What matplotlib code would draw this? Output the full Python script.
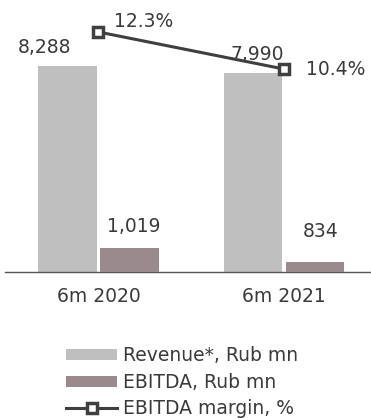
import numpy as np
import matplotlib.pyplot as plt
from matplotlib.patches import Patch
from matplotlib.lines import Line2D

periods = ['6m 2020', '6m 2021']
revenue = [8288, 7990]
ebitda = [1019, 834]
margin = [12.3, 10.4]

revenue_labels = ['8,288', '7,990']
ebitda_labels = ['1,019', '834']
margin_labels = ['12.3%', '10.4%']

plt.rcParams['font.family'] = ['DejaVu Sans']
txt = '#3a3a3a'
c_rev = '#bfbfbf'
c_ebit = '#9a8a8d'
c_line = '#3f3f3f'
fs = 13.5

fig = plt.figure(figsize=(3.71, 4.19), dpi=100)
ax = fig.add_axes([5 / 371, 147 / 419, 366 / 371, 272 / 419])
ax_e = ax.twinx()
ax_m = ax.twinx()

x = np.arange(len(periods))
w = 0.315
off = 0.166

ax.bar(x - off, revenue, w, color=c_rev)
ax_e.bar(x + off, ebitda, w, color=c_ebit)
ax_m.plot(x, margin, color=c_line, lw=2.2, marker='s', ms=7.5,
          mfc='white', mec=c_line, mew=2.5)

ax.set_xlim(-0.504, 1.469)
ax.set_ylim(0, 10943)
ax_e.set_ylim(700, 700 + 317 * 272 / 24)
ax_m.set_ylim(12.3 - 240 / 19.5, 12.3 + 32 / 19.5)

for a in (ax, ax_e, ax_m):
    for s in a.spines.values():
        s.set_visible(False)
    a.set_yticks([])
ax.spines['bottom'].set_visible(True)
ax.spines['bottom'].set_color('#555555')
ax.spines['bottom'].set_linewidth(1)
ax.set_xticks(x)
ax.set_xticklabels(periods, fontsize=fs, color=txt)
ax.tick_params(axis='x', length=0, pad=11)

r_off = [(-16.5, 9.5), (3, 9.5)]
for xi, v, lab, o in zip(x, revenue, revenue_labels, r_off):
    ax.annotate(lab, (xi - off, v), xytext=o, textcoords='offset points',
                ha='center', va='baseline', fontsize=fs, color=txt)
e_off = [(3, 11.5), (4, 18)]
for xi, v, lab, o in zip(x, ebitda, ebitda_labels, e_off):
    ax_e.annotate(lab, (xi + off, v), xytext=o, textcoords='offset points',
                  ha='center', va='baseline', fontsize=fs, color=txt)
m_off = [(11, 7.5), (16, 0)]
for xi, v, lab, o in zip(x, margin, margin_labels, m_off):
    ax_m.annotate(lab, (xi, v), xytext=o, textcoords='offset points',
                  ha='left', va='center', fontsize=fs, color=txt)

handles = [
    Patch(facecolor=c_rev, edgecolor='none'),
    Patch(facecolor=c_ebit, edgecolor='none'),
    Line2D([], [], color=c_line, lw=2.2, marker='s', ms=7.5, mfc='white', mec=c_line, mew=2.5),
]
labels = ['Revenue*, Rub mn', 'EBITDA, Rub mn', 'EBITDA margin, %']
leg = fig.legend(handles, labels, loc='upper left', bbox_to_anchor=(57 / 371, 1 - 337 / 419),
                 frameon=False, fontsize=fs, handlelength=2.7, handleheight=0.55,
                 handletextpad=0.3, labelspacing=0.4, borderpad=0)
for t in leg.get_texts():
    t.set_color(txt)

fig.savefig('out.png', dpi=100)
